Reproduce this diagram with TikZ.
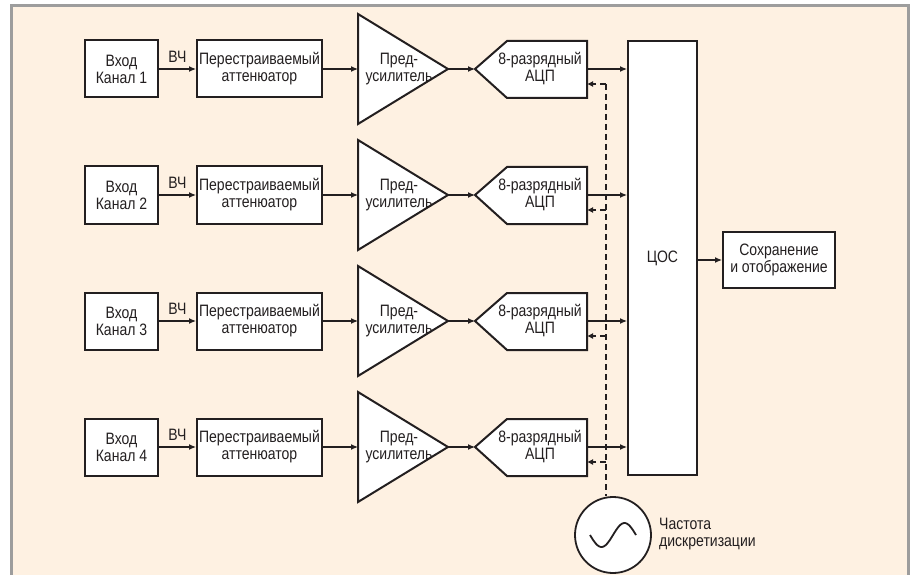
\documentclass[tikz,border=0pt]{standalone}
\usepackage{fontspec}
\setmainfont{Liberation Sans}[FakeStretch=0.85]
\usetikzlibrary{arrows.meta}
\definecolor{panel}{HTML}{FEF1E2}
\definecolor{rim}{HTML}{9D9D9D}
\definecolor{ink}{HTML}{231F20}
\begin{document}
\begin{tikzpicture}[x=1pt,y=-1pt]
  \tikzstyle{every node}=[text=ink,font=\fontsize{16.5}{17}\selectfont,align=center,inner sep=0pt]
  \tikzstyle{block}=[draw=ink,fill=white,line width=2pt]
  \tikzstyle{link}=[draw=ink,line width=1.2pt,-{Latex[length=7pt,width=6pt]}]
  \tikzstyle{clock}=[draw=ink,line width=1.1pt,dash pattern=on 6pt off 4pt]

  \useasboundingbox (0,0) rectangle (913,575);
  \fill[panel] (11,6) rectangle (908,575);
  \draw[rim,line width=3pt] (11,575) -- (11,6) -- (908,6) -- (908,575);

  % Signal processor and output
  \node[block,minimum width=69pt,minimum height=434pt] (dsp) at (662.5,258) {ЦОС};
  \node[block,minimum width=112pt,minimum height=56pt] (out) at (779,260) {Сохранение\\и отображение};
  \draw[link] (dsp.east |- out.west) -- (out.west);

  % Clock source
  \node[block,line width=1.8pt,circle,minimum size=76pt] (clk) at (613,535) {};
  \draw[ink,line width=1.8pt,shift={(clk.center)}]
    plot[domain=-23:23,smooth,samples=40] (\x,{-12*sin(\x*360/46)});
  \node[anchor=west,align=left] (clklabel) at (659,534) {Частота\\дискретизации};

  % Define the four channels
  \foreach \r in {1,...,4} {
    \pgfmathsetmacro\y{69+126*(\r-1)}
    \node[block,minimum width=73pt,minimum height=57pt] (in\r) at (121.5,\y) {Вход\\Канал \r};
    \node[block,minimum width=125pt,minimum height=57pt] (att\r) at (259.5,\y) {Перестраиваемый\\аттенюатор};
    \draw[block] (358,\y-55) -- (448,\y) -- (358,\y+55) -- cycle;
    \coordinate (ampin\r) at (358,\y);
    \coordinate (ampout\r) at (448,\y);
    \node (amp\r) at (399,\y) {Пред-\\усилитель};
    \draw[block] (475,\y) -- (507,\y-28) -- (587,\y-28) -- (587,\y+29) -- (507,\y+29) -- cycle;
    \coordinate (adcin\r) at (475,\y);
    \coordinate (adcout\r) at (587,\y);
    \coordinate (adcret\r) at (587,\y+15);
    \coordinate (tap\r) at (606,\y+15);
    \node (adc\r) at (540,\y) {8-разрядный\\АЦП};
  }

  % Draw the signal path of each channel
  \foreach \r in {1,...,4} {
    \draw[link] (in\r.east) -- node[above=6pt] {ВЧ} (att\r.west);
    \draw[link] (att\r.east) -- (ampin\r);
    \draw[link] (ampout\r) -- (adcin\r);
    \draw[link] (adcout\r) -- (dsp.west |- adcout\r);
    \draw[clock,-{Latex[length=6pt,width=6pt]}] (tap\r) -- (adcret\r);
  }

  % Sampling clock line
  \draw[clock] (tap1) -- (tap1 |- clk.north);
\end{tikzpicture}
\end{document}
